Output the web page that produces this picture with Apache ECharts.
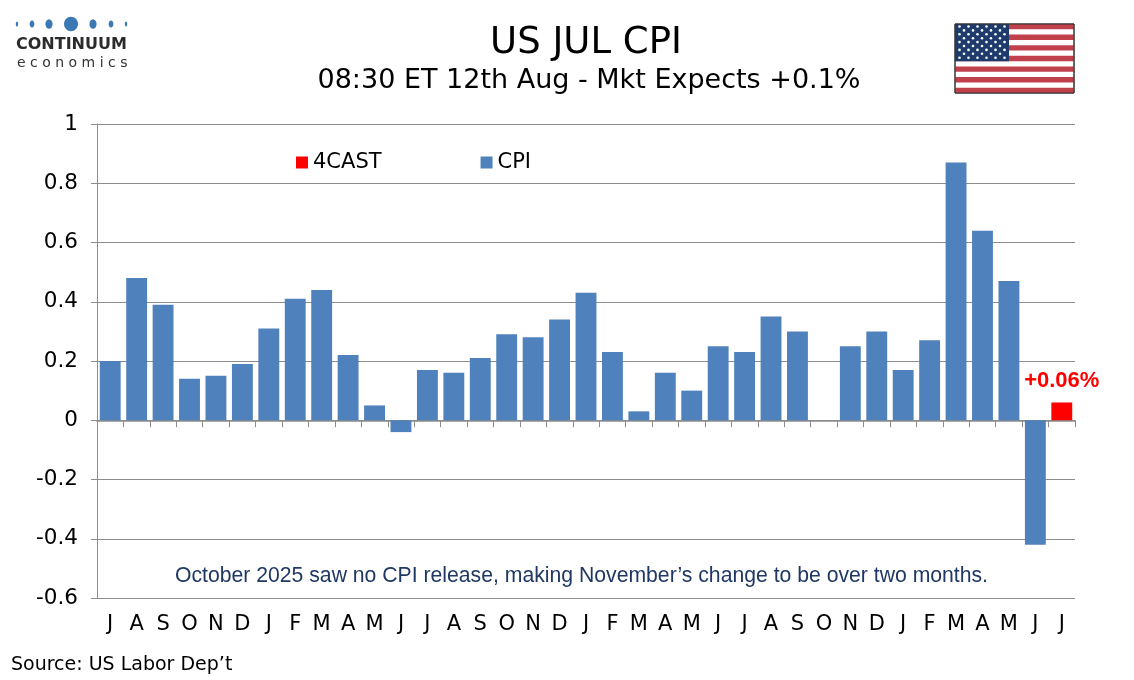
<!DOCTYPE html>
<html>
<head>
<meta charset="utf-8">
<title>US JUL CPI</title>
<style>
html, body { margin: 0; width: 100%; height: 100%; background: #fff; }
#chart { width: 1134px; height: 680px; }
</style>
</head>
<body>
<div id="chart"></div>
<script src="https://cdn.jsdelivr.net/npm/echarts@6/dist/echarts.min.js"></script>
<script>
// month initials, Jul .. Jul over three years
var months = ['J','A','S','O','N','D','J','F','M','A','M','J','J','A','S','O','N','D',
  'J','F','M','A','M','J','J','A','S','O','N','D','J','F','M','A','M','J','J'];
// CPI m/m % change (Oct has no release)
var cpi = [0.20, 0.48, 0.39, 0.14, 0.15, 0.19, 0.31, 0.41, 0.44, 0.22, 0.05, -0.04,
  0.17, 0.16, 0.21, 0.29, 0.28, 0.34, 0.43, 0.23, 0.03, 0.16, 0.10, 0.25,
  0.23, 0.35, 0.30, null, 0.25, 0.30, 0.17, 0.27, 0.87, 0.64, 0.47, -0.42, null];
var forecast = [];
for (var i = 0; i < months.length - 1; i++) forecast.push(null);
forecast.push(0.06);
var yTicks = [-0.6, -0.4, -0.2, 0, 0.2, 0.4, 0.6, 0.8, 1];

var blue = '#4F81BD';
var red = '#FF0000';
var gridGray = '#8C8C8C';
var verdana = '"DejaVu Sans", Verdana, sans-serif';
var arial = '"Liberation Sans", Arial, sans-serif';

var chart = echarts.init(document.getElementById('chart'));

// logo dots and flag are decoration only
var logo = [];
var dots = [[17, 1.2, 2.6], [32, 2.4, 3.6], [49, 3.6, 4.8], [71, 7, 7.2], [93, 3.6, 4.8], [111, 2.4, 3.6], [126, 1.2, 2.6]];
dots.forEach(function (d) {
  logo.push({ type: 'ellipse', shape: { cx: d[0], cy: 24, rx: d[1], ry: d[2] }, style: { fill: '#3B78B4' } });
});
logo.push({ type: 'text', left: 16, top: 37, style: { text: 'CONTINUUM', font: 'bold 16px "DejaVu Sans"', fill: '#2B2B2B' } });
logo.push({ type: 'text', left: 17, top: 56, style: { text: 'e c o n o m i c s', font: '14px "DejaVu Sans"', fill: '#333' } });

var flag = [];
var fx = 955, fy = 24, fw = 119, fh = 69, sh = fh / 13;
flag.push({ type: 'rect', shape: { x: fx, y: fy, width: fw, height: fh }, style: { fill: '#fff', stroke: '#333', lineWidth: 1 } });
for (var s = 0; s < 13; s += 2) {
  flag.push({ type: 'rect', shape: { x: fx, y: fy + s * sh, width: fw, height: sh }, style: { fill: '#C0414B' } });
}
var cw = 54, ch = sh * 7;
flag.push({ type: 'rect', shape: { x: fx, y: fy, width: cw, height: ch }, style: { fill: '#1F3B6B' } });
for (var r = 0; r < 9; r++) {
  var n = r % 2 === 0 ? 6 : 5;
  for (var c = 0; c < n; c++) {
    var sx = fx + 4.5 + c * 9 + (r % 2 === 0 ? 0 : 4.5);
    var sy = fy + 2.5 + r * 3.9;
    flag.push({ type: 'circle', shape: { cx: sx, cy: sy, r: 1.3 }, style: { fill: '#fff' } });
  }
}
flag.push({ type: 'rect', shape: { x: fx, y: fy, width: fw, height: fh }, style: { fill: 'none', stroke: '#333', lineWidth: 1 } });

var option = {
  backgroundColor: '#fff',
  animation: false,
  title: [{
    text: 'US JUL CPI',
    left: 581, top: 20, textAlign: 'center',
    textStyle: { fontFamily: verdana, fontSize: 37, fontWeight: 'normal', color: '#000' }
  }, {
    text: '08:30 ET 12th Aug - Mkt Expects +0.1%',
    left: 584, top: 62, textAlign: 'center',
    textStyle: { fontFamily: verdana, fontSize: 27, fontWeight: 'normal', color: '#000' }
  }, {
    text: 'Source: US Labor Dep\u2019t',
    left: 6, top: 651,
    textStyle: { fontFamily: verdana, fontSize: 19, fontWeight: 'normal', color: '#000' }
  }],
  legend: {
    data: ['4CAST', 'CPI'],
    left: 291, top: 147,
    itemWidth: 12, itemHeight: 12, itemGap: 99,
    icon: 'rect',
    textStyle: { fontFamily: verdana, fontSize: 21, color: '#000' }
  },
  grid: { left: 97, right: 59, top: 124, bottom: 82 },
  xAxis: [{
    type: 'category',
    data: months,
    axisLine: { show: false, onZero: false },
    axisTick: { show: false },
    axisLabel: { interval: 0, margin: 16, fontFamily: verdana, fontSize: 21, color: '#000' }
  }, {
    type: 'category',
    data: months,
    position: 'bottom',
    axisLine: { show: true, onZero: true, lineStyle: { color: gridGray, width: 1.5 } },
    axisTick: { show: true, interval: 0, length: 7, lineStyle: { color: gridGray } },
    axisLabel: { show: false }
  }],
  yAxis: {
    type: 'value',
    min: yTicks[0], max: yTicks[yTicks.length - 1], interval: 0.2,
    axisLine: { show: true, lineStyle: { color: gridGray } },
    axisTick: { show: true, length: 6, lineStyle: { color: gridGray } },
    splitLine: { lineStyle: { color: gridGray, width: 1.2 } },
    axisLabel: {
      margin: 19, fontFamily: verdana, fontSize: 21.5, color: '#000',
      formatter: function (v) { return String(+v.toFixed(1)); }
    }
  },
  series: [{
    name: 'CPI',
    type: 'bar',
    data: cpi,
    barCategoryGap: '21%',
    barGap: '-100%',
    itemStyle: { color: blue }
  }, {
    name: '4CAST',
    type: 'bar',
    data: forecast,
    barCategoryGap: '21%',
    barGap: '-100%',
    itemStyle: { color: red },
    label: {
      show: true, position: 'top', distance: 11,
      formatter: function (p) { return '+' + p.value.toFixed(2) + '%'; },
      fontFamily: arial, fontSize: 22, fontWeight: 'bold', color: red
    }
  }],
  graphic: logo.concat(flag).concat([{
    type: 'text',
    left: 175, top: 566,
    style: {
      text: 'October 2025 saw no CPI release, making November\u2019s change to be over two months.',
      font: '21.2px "Liberation Sans", Arial, sans-serif',
      fill: '#1F3864'
    }
  }])
};

chart.setOption(option);
</script>
</body>
</html>
